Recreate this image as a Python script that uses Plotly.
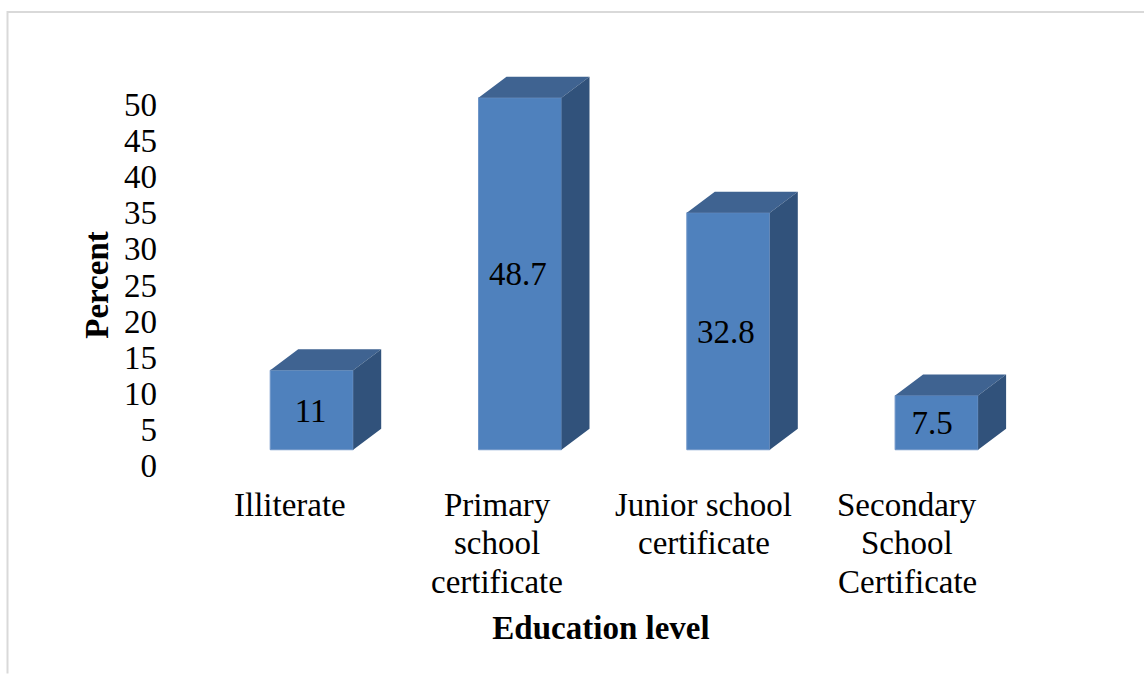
import plotly.graph_objects as go

categories = ["Illiterate", "Primary school certificate", "Junior school certificate", "Secondary School Certificate"]
values = [11, 48.7, 32.8, 7.5]
value_labels = ["11", "48.7", "32.8", "7.5"]
label_lines = [["Illiterate"], ["Primary", "school", "certificate"], ["Junior school", "certificate"], ["Secondary", "School", "Certificate"]]
label_offsets = [-0.105, -0.11, -0.118, -0.142]
value_label_offsets = [-0.005, -0.01, -0.012, -0.022]
y_ticks = [0, 5, 10, 15, 20, 25, 30, 35, 40, 45, 50]

FONT = "Liberation Serif"
FS = 33
W, H = 1144, 674
PX_X = 208.3       # pixels per category
PX_Y = 7.24        # pixels per percent
Y_ZERO = 466       # pixel of 0 percent
Y_MIN, Y_MAX = -10, 60
L, R = 170, 1032
T, B = Y_ZERO - Y_MAX * PX_Y, Y_ZERO - Y_MIN * PX_Y
X0 = 311.7         # pixel of first category
BW = 83 / PX_X
DX = 28 / PX_X
DY = 21 / PX_Y
FLOOR = 16 / PX_Y  # bars stand on the floor of the 3-D box
TEXT_DROP = 3.5 / PX_Y

xs = list(range(len(values)))

top_x, top_y, side_x, side_y = [], [], [], []
for x, v in zip(xs, values):
    a, b = x - BW / 2, x + BW / 2
    t = FLOOR + v
    top_x += [a, b, b + DX, a + DX, a, None]
    top_y += [t, t, t + DY, t + DY, t, None]
    side_x += [b, b + DX, b + DX, b, b, None]
    side_y += [FLOOR, FLOOR + DY, t + DY, t, FLOOR, None]

fig = go.Figure()
fig.add_trace(go.Bar(
    x=xs, y=values, base=[FLOOR] * len(values), width=BW,
    marker=dict(color="#4F81BD", line=dict(color="#7096C8", width=1)),
    cliponaxis=False, hoverinfo="skip", showlegend=False,
))
fig.add_trace(go.Scatter(x=top_x, y=top_y, mode="lines", fill="toself", fillcolor="#3F6391",
                         line=dict(width=0, color="#3F6391"), cliponaxis=False,
                         hoverinfo="skip", showlegend=False))
fig.add_trace(go.Scatter(x=side_x, y=side_y, mode="lines", fill="toself", fillcolor="#31527B",
                         line=dict(width=0, color="#31527B"), cliponaxis=False,
                         hoverinfo="skip", showlegend=False))
fig.add_trace(go.Scatter(
    x=[x + o for x, o in zip(xs, value_label_offsets)],
    y=[FLOOR + v / 2 - TEXT_DROP for v in values],
    mode="text", text=value_labels, textposition="middle center",
    textfont=dict(family=FONT, size=FS, color="black"),
    cliponaxis=False, hoverinfo="skip", showlegend=False,
))

annotations = []
for x, off, lines in zip(xs, label_offsets, label_lines):
    for i, line in enumerate(lines):
        annotations.append(dict(
            x=x + off, y=0, xref="x", yref="y", yanchor="middle", xanchor="center",
            yshift=-(39 + 38.5 * i), text=line, showarrow=False,
            font=dict(family=FONT, size=FS, color="black"),
        ))

border = dict(type="path", xref="paper", yref="paper", layer="below",
              path=f"M {(7.5 - L) / (R - L)} {(B - H) / (B - T)} L {(7.5 - L) / (R - L)} {(B - 11.5) / (B - T)} "
                   f"L {(W - L) / (R - L)} {(B - 11.5) / (B - T)}",
              line=dict(color="#D9D9D9", width=2))

fig.update_layout(
    width=W, height=H, autosize=False,
    margin=dict(l=L, r=W - R, t=T, b=H - B, pad=0),
    paper_bgcolor="white", plot_bgcolor="white",
    font=dict(family=FONT, size=FS, color="black"),
    showlegend=False,
    annotations=annotations,
    shapes=[border],
    xaxis=dict(range=[(L - X0) / PX_X, (R - X0) / PX_X], showgrid=False, zeroline=False, showline=False,
               showticklabels=False, ticks="", automargin=False,
               title=dict(text="<b>Education level</b>", standoff=77, font=dict(family=FONT, size=FS))),
    yaxis=dict(range=[Y_MIN, Y_MAX], tickvals=y_ticks, showgrid=False, zeroline=False, showline=False, ticks="",
               ticklabelstandoff=12, tickfont=dict(family=FONT, size=FS, color="black"), automargin=False,
               title=dict(text="<b>Percent</b>", standoff=5, font=dict(family=FONT, size=FS))),
)
fig.write_html("out.html", config={"displayModeBar": False}, post_script="document.body.style.margin='0';")
